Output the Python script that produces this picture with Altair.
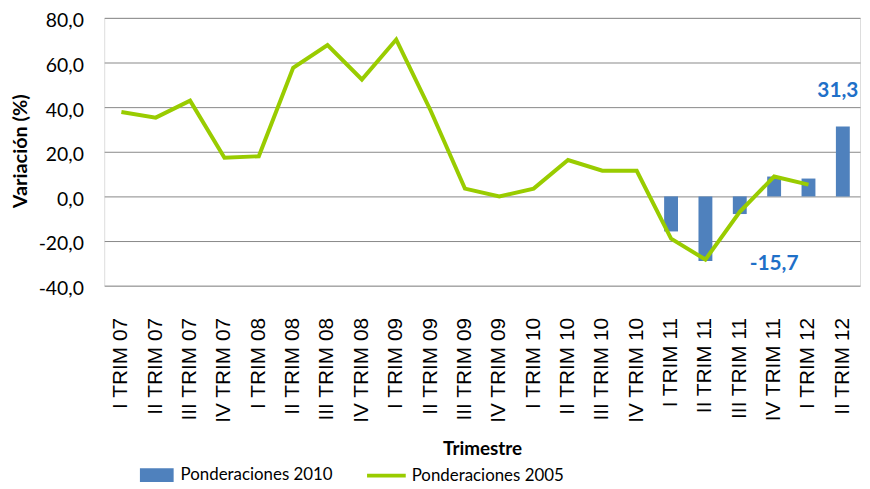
import altair as alt
import pandas as pd

categorias = ["I TRIM 07", "II TRIM 07", "III TRIM 07", "IV TRIM 07",
              "I TRIM 08", "II TRIM 08", "III TRIM 08", "IV TRIM 08",
              "I TRIM 09", "II TRIM 09", "III TRIM 09", "IV TRIM 09",
              "I TRIM 10", "II TRIM 10", "III TRIM 10", "IV TRIM 10",
              "I TRIM 11", "II TRIM 11", "III TRIM 11", "IV TRIM 11",
              "I TRIM 12", "II TRIM 12"]
pond_2005 = [37.8, 35.3, 42.9, 17.3, 18.0, 57.6, 67.8, 52.4, 70.3, 38.5, 3.5, 0.0,
             3.5, 16.3, 11.5, 11.5, -18.9, -28.3, -6.9, 8.9, 5.3, None]
pond_2010 = [None] * 16 + [-15.7, -28.9, -7.9, 8.9, 8.0, 31.3]
y_ticks = [-40, -20, 0, 20, 40, 60, 80]

df = pd.DataFrame({"cat": categorias, "p2005": pond_2005, "p2010": pond_2010})

FONT = "Lato"
BLUE = "#4F81BD"
GREEN = "#99CC00"
LBL = "#1F70C8"

xenc = alt.X("cat:N", sort=categorias, scale=alt.Scale(domain=categorias),
             axis=alt.Axis(title="Trimestre", labelAngle=-90, labelFont="Liberation Sans",
                           labelFontSize=21, labelColor="#000", labelPadding=32,
                           ticks=False, domain=False, titleFont=FONT, titleFontSize=19,
                           titleFontWeight="bold", titleColor="#000", titleY=164,
                           titleBaseline="middle"))
yscale = alt.Scale(domain=[-40, 80], nice=False, zero=False)
yaxis = alt.Axis(title="Variación (%)", values=y_ticks, grid=True, gridColor="#888888",
                 gridWidth=1, domain=False, ticks=False, labelFont=FONT, labelFontSize=19.5,
                 labelColor="#000", labelPadding=21, labelOffset=3,
                 labelExpr="(datum.value < 0 ? '-' : '') + replace(format(abs(datum.value), '.1f'), '.', ',')",
                 titleFont=FONT, titleFontSize=20, titleFontWeight="bold", titleColor="#000",
                 titleX=-84, titleY=134, titleBaseline="middle", titleAngle=-90)

bars = alt.Chart(df).transform_filter("isValid(datum.p2010)").transform_calculate(
    serie="'Ponderaciones 2010'"
).mark_bar(size=14).encode(
    x=xenc,
    y=alt.Y("p2010:Q", scale=yscale, axis=yaxis),
    color=alt.Color("serie:N", scale=alt.Scale(domain=["Ponderaciones 2010"], range=[BLUE]),
                    legend=alt.Legend(title=None, orient="none", legendX=35, legendY=443,
                                      symbolType="M-1,-0.41H1V0.41H-1Z", symbolSize=1156,
                                      symbolOpacity=1, labelFont=FONT, labelFontSize=17,
                                      labelColor="#000", labelOffset=6, labelLimit=400)),
)

line = alt.Chart(df).transform_filter("isValid(datum.p2005)").transform_calculate(
    serie2="'Ponderaciones 2005'"
).mark_line(strokeWidth=4).encode(
    x=alt.X("cat:N", sort=categorias, scale=alt.Scale(domain=categorias)),
    y=alt.Y("p2005:Q", scale=yscale),
    stroke=alt.Stroke("serie2:N", scale=alt.Scale(domain=["Ponderaciones 2005"], range=[GREEN]),
                      legend=alt.Legend(title=None, orient="none", legendX=263, legendY=440,
                                        symbolType="stroke", symbolSize=1521,
                                        symbolStrokeWidth=4, labelFont=FONT, labelFontSize=17,
                                        labelColor="#000", labelOffset=4, labelLimit=400)),
)

lab_pos = pd.DataFrame({"cat": ["II TRIM 12"], "v": [31.3], "t": ["31,3"]})
lab_neg = pd.DataFrame({"cat": ["IV TRIM 11"], "v": [-15.7], "t": ["-15,7"]})

t_pos = alt.Chart(lab_pos).mark_text(font=FONT, fontSize=21, fontWeight="bold", color=LBL,
                                     baseline="middle", dy=-36, dx=-5).encode(
    x=alt.X("cat:N", sort=categorias, scale=alt.Scale(domain=categorias)),
    y=alt.Y("v:Q", scale=yscale), text="t:N")
t_neg = alt.Chart(lab_neg).mark_text(font=FONT, fontSize=21, fontWeight="bold", color=LBL,
                                     baseline="middle", dy=33).encode(
    x=alt.X("cat:N", sort=categorias, scale=alt.Scale(domain=categorias)),
    y=alt.Y("v:Q", scale=yscale), text="t:N")

chart = alt.layer(bars, line, t_pos, t_neg).properties(
    width=762, height=270,
    autosize=alt.AutoSizeParams(type="none"),
    padding={"left": 97, "top": 8, "right": 2, "bottom": 198},
).configure_view(stroke=None).configure(background="white")

chart.save("out.html", embed_options={"renderer": "svg", "actions": False})
